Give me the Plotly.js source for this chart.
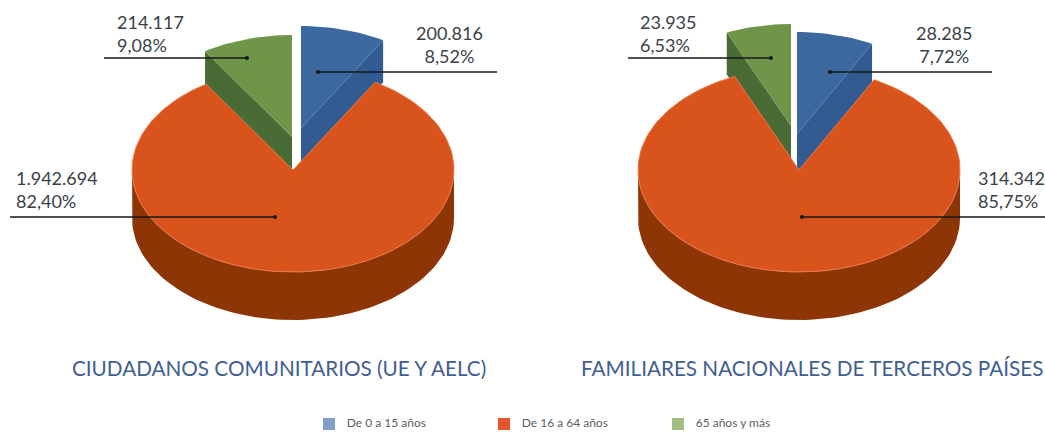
<!DOCTYPE html>
<html><head><meta charset="utf-8">
<script src="https://cdn.plot.ly/plotly-3.0.1.min.js"></script>
<style>html,body{margin:0;padding:0;background:#fff}#c{width:1045px;height:432px}</style></head>
<body><div id="c"></div>
<script>
// ---- data
const categories = ["De 0 a 15 años", "De 16 a 64 años", "65 años y más"];
const chartTitles = ["CIUDADANOS COMUNITARIOS (UE Y AELC)", "FAMILIARES NACIONALES DE TERCEROS PAÍSES"];
const valuesEU = [200816, 1942694, 214117];
const percentEU = [8.52, 82.40, 9.08];
const valuesFam = [28285, 314342, 23935];
const percentFam = [7.72, 85.75, 6.53];

// ---- styles and layout (pixel-scale axes)
const topColors = ["#3B699F", "#D9541D", "#6F9549"];
const wallColors = ["#325C91", "#8E3506", "#4A6B36"];
const swatchColors = ["#7F9FC7", "#E8552B", "#A5BD80"];
const RX = 161, RY = 102, DEPTH = 48;
const pies = [
  {values: valuesEU, pct: percentEU, cx: 293, cy: 170, blue: [301, 128], green: [292, 137], wedgeDepth: 42,
   leaders: [[318, 497, 72], [275, 10, 217], [247, 104, 58]],
   labels: [[449, 44.5, "center"], [14, 189, "left"], [115, 33.5, "left"]], title: [278.5, 368]},
  {values: valuesFam, pct: percentFam, cx: 799, cy: 170, blue: [797, 134], green: [791, 126], wedgeDepth: 42,
   leaders: [[830, 992, 72], [802, 1045, 217], [771, 628, 58]],
   labels: [[944, 44.5, "center"], [976, 189, "left"], [638, 33.5, "left"]], title: [811.5, 368]}
];
const legendX = [329, 504, 678];
const legendY = 424;
const DOT = 3;

const rim = (cx, cy, deg) => [cx + RX * Math.sin(deg * Math.PI / 180), cy - RY * Math.cos(deg * Math.PI / 180)];
function arc(cx, cy, a, b) {
  const n = Math.max(2, Math.ceil(Math.abs(b - a) / 2)), out = [];
  for (let i = 0; i <= n; i++) out.push(rim(cx, cy, a + (b - a) * i / n));
  return out;
}
function poly(pts, color, line) {
  return {type: "scatter", mode: "lines", x: pts.map(p => p[0]), y: pts.map(p => p[1]), fill: "toself",
    fillcolor: color, line: line || {width: 0, color: color}, hoverinfo: "skip", showlegend: false};
}
function wedge(c, a, b, color, wallColor, depth, wallAngle) {
  const corner = rim(c[0], c[1], wallAngle);
  const wall = [corner, [corner[0], corner[1] + depth], [c[0], c[1] + depth], c, corner];
  const face = [c].concat(arc(c[0], c[1], a, b)).concat([c]);
  return [poly(wall, wallColor), poly(face, color)];
}
const fmtInt = v => String(v).replace(/\B(?=(\d{3})+$)/g, ".");
const fmtPct = p => p.toFixed(2).replace(".", ",") + "%";

const traces = [], annotations = [];
pies.forEach((P, k) => {
  const aBlue = P.pct[0] * 3.6, aGreen = 360 - P.pct[2] * 3.6;
  traces.push(...wedge(P.blue, 0, aBlue, topColors[0], wallColors[0], P.wedgeDepth, aBlue));
  traces.push(...wedge(P.green, aGreen, 360, topColors[2], wallColors[2], P.wedgeDepth, aGreen));
  // main slice: side wall then top face
  const front = arc(P.cx, P.cy, 90, 270);
  const back = front.slice().reverse().map(p => [p[0], p[1] + DEPTH]);
  traces.push(poly(front.concat(back), wallColors[1]));
  const main = [[P.cx, P.cy]].concat(arc(P.cx, P.cy, aBlue, aGreen)).concat([[P.cx, P.cy]]);
  traces.push(poly(main, topColors[1], {width: 1, color: "#E8794A"}));
  // leader lines with their end dot
  P.leaders.forEach(L => {
    traces.push({type: "scatter", mode: "lines", x: [L[0], L[1]], y: [L[2], L[2]], line: {color: "#14181d", width: 1.4},
      hoverinfo: "skip", showlegend: false});
    traces.push({type: "scatter", mode: "markers", x: [L[0]], y: [L[2]], marker: {color: "#14181d", size: DOT + 1},
      hoverinfo: "skip", showlegend: false});
  });
  P.labels.forEach((L, i) => annotations.push({
    x: L[0], y: L[1], xref: "x", yref: "y", xanchor: L[2], yanchor: "middle", align: L[2], showarrow: false,
    text: fmtInt(P.values[i]) + "<br>" + fmtPct(P.pct[i]),
    font: {family: "Lato, sans-serif", size: 18, color: "#3A3F47"}}));
  annotations.push({x: P.title[0], y: P.title[1], xref: "x", yref: "y", xanchor: "center", yanchor: "middle", showarrow: false,
    text: chartTitles[k], font: {family: "Lato, sans-serif", size: 20.7, color: "#3F5E92"}});
});
categories.forEach((c, i) => {
  traces.push({type: "scatter", mode: "markers+text", x: [legendX[i]], y: [legendY], text: ["   " + c], textposition: "middle right",
    textfont: {family: "Lato, sans-serif", size: 12, color: "#5A5F66"},
    marker: {symbol: "square", size: 12, color: swatchColors[i]}, name: c, hoverinfo: "name", showlegend: false, cliponaxis: false});
});

Plotly.newPlot("c", traces, {
  width: 1045, height: 432, margin: {l: 0, r: 0, t: 0, b: 0}, paper_bgcolor: "#fff", plot_bgcolor: "#fff", showlegend: false,
  xaxis: {range: [0, 1045], visible: false, fixedrange: true},
  yaxis: {range: [432, 0], visible: false, fixedrange: true},
  annotations
}, {displayModeBar: false, staticPlot: true});
</script></body></html>
